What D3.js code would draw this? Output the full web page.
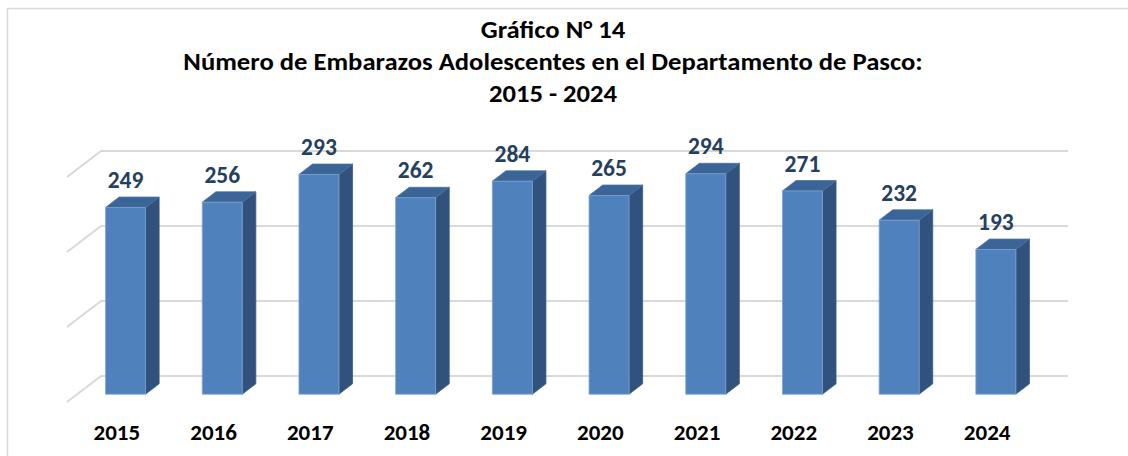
<!DOCTYPE html>
<html>
<head>
<meta charset="utf-8">
<script src="https://cdn.jsdelivr.net/npm/d3@7"></script>
<style>
  body { margin: 0; background: #fff; }
  svg { display: block; font-family: Carlito, Calibri, "Open Sans", sans-serif; }
</style>
</head>
<body>
<div id="chart"></div>
<script>
// data
var years = ["2015", "2016", "2017", "2018", "2019", "2020", "2021", "2022", "2023", "2024"];
var values = [249, 256, 293, 262, 284, 265, 294, 271, 232, 193];
var gridTicks = [0, 100, 200, 300];
var titleLines = ["Gráfico N° 14",
                  "Número de Embarazos Adolescentes en el Departamento de Pasco:",
                  "2015 - 2024"];

var width = 1128, height = 456;

// 3d box: front floor edge at y=402, back wall at depth 1
var floorY = 402,
    depthX = 34,
    depthY = 26,
    barFront = 0.3,
    barBack = 0.7,
    barW = 40;

var x = d3.scaleBand()
    .domain(years)
    .range([67, 1034]);

var y = d3.scaleLinear()
    .domain([0, 300])
    .range([0, 225]);

function px(xf, d) { return xf + d * depthX; }
function py(v, d) { return floorY - d * depthY - y(v); }

var svg = d3.select("#chart").append("svg")
    .attr("width", width)
    .attr("height", height);

// outer frame
svg.append("rect")
    .attr("x", 7.5)
    .attr("y", 8.5)
    .attr("width", width)
    .attr("height", height)
    .attr("fill", "none")
    .attr("stroke", "#d9d9d9")
    .attr("stroke-width", 1.5);

// title (the original text is a bit wider than Carlito, stretch it slightly)
svg.append("g").selectAll("text")
    .data(titleLines)
  .enter().append("text")
    .attr("transform", function(d, i) { return "translate(553," + (38 + i * 32) + ") scale(1.11,1)"; })
    .attr("text-anchor", "middle")
    .attr("font-size", 24)
    .attr("font-weight", "bold")
    .attr("fill", "#000")
    .text(function(d) { return d; });

// gridlines: back wall + left side wall
var x0 = x.range()[0], x1 = x.range()[1];
var grid = svg.append("g").attr("class", "grid");
gridTicks.forEach(function(t) {
  grid.append("path")
      .attr("d", "M" + px(x0, 0) + "," + py(t, 0) +
                 "L" + px(x0, 1) + "," + py(t, 1) +
                 "L" + px(x1, 1) + "," + py(t, 1))
      .attr("fill", "none")
      .attr("stroke", "#d9d9d9")
      .attr("stroke-width", 2);
});

// bars
var bars = svg.append("g").selectAll("g")
    .data(years)
  .enter().append("g");

bars.each(function(yr, i) {
  var g = d3.select(this),
      v = values[i],
      xl = x(yr) + x.bandwidth() / 2 - barW / 2,
      xr = xl + barW;

  function pt(xf, val, d) { return px(xf, d) + "," + py(val, d); }

  // side
  g.append("polygon")
      .attr("points", [pt(xr, 0, barFront), pt(xr, 0, barBack), pt(xr, v, barBack), pt(xr, v, barFront)].join(" "))
      .attr("fill", "#31527c")
      .attr("stroke", "#3a5f8c")
      .attr("stroke-width", 0.8);
  // top
  g.append("polygon")
      .attr("points", [pt(xl, v, barFront), pt(xl, v, barBack), pt(xr, v, barBack), pt(xr, v, barFront)].join(" "))
      .attr("fill", "#3b6497")
      .attr("stroke", "#4a72a3")
      .attr("stroke-width", 0.8);
  // front
  g.append("polygon")
      .attr("points", [pt(xl, 0, barFront), pt(xr, 0, barFront), pt(xr, v, barFront), pt(xl, v, barFront)].join(" "))
      .attr("fill", "#4f81bd")
      .attr("stroke", "#7fa3cf")
      .attr("stroke-width", 0.8);

  // value label
  g.append("text")
      .attr("x", px(xl + barW / 2, barFront))
      .attr("y", py(v, barBack) - 9)
      .attr("text-anchor", "middle")
      .attr("font-size", 23.5)
      .attr("font-weight", "bold")
      .attr("fill", "#243f60")
      .text(v);
});

// category labels
svg.append("g").selectAll("text")
    .data(years)
  .enter().append("text")
    .attr("x", function(d) { return x(d) + x.bandwidth() / 2 + 1.5; })
    .attr("y", 440)
    .attr("text-anchor", "middle")
    .attr("font-size", 23)
    .attr("font-weight", "bold")
    .attr("fill", "#000")
    .text(function(d) { return d; });
</script>
</body>
</html>
